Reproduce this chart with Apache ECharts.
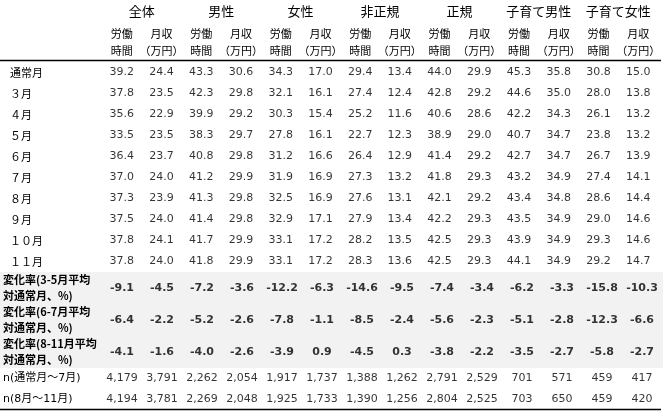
<!DOCTYPE html>
<html><head><meta charset="utf-8">
<script src="https://cdn.jsdelivr.net/npm/echarts@6/dist/echarts.min.js"></script>
<style>html,body{margin:0;padding:0;background:#fff}#c{width:663px;height:411px}</style>
</head><body><div id="c"></div>
<script>
const groupLabels = ['全体','男性','女性','非正規','正規','子育て男性','子育て女性'];
const subLabels = ['労働\n時間','月収\n（万円）','労働\n時間','月収\n（万円）','労働\n時間','月収\n（万円）','労働\n時間','月収\n（万円）','労働\n時間','月収\n（万円）','労働\n時間','月収\n（万円）','労働\n時間','月収\n（万円）'];
const monthLabels = ['通常月','３月','４月','５月','６月','７月','８月','９月','１０月','１１月'];
const rowNormal = [39.2,24.4,43.3,30.6,34.3,17.0,29.4,13.4,44.0,29.9,45.3,35.8,30.8,15.0];
const rowMar = [37.8,23.5,42.3,29.8,32.1,16.1,27.4,12.4,42.8,29.2,44.6,35.0,28.0,13.8];
const rowApr = [35.6,22.9,39.9,29.2,30.3,15.4,25.2,11.6,40.6,28.6,42.2,34.3,26.1,13.2];
const rowMay = [33.5,23.5,38.3,29.7,27.8,16.1,22.7,12.3,38.9,29.0,40.7,34.7,23.8,13.2];
const rowJun = [36.4,23.7,40.8,29.8,31.2,16.6,26.4,12.9,41.4,29.2,42.7,34.7,26.7,13.9];
const rowJul = [37.0,24.0,41.2,29.9,31.9,16.9,27.3,13.2,41.8,29.3,43.2,34.9,27.4,14.1];
const rowAug = [37.3,23.9,41.3,29.8,32.5,16.9,27.6,13.1,42.1,29.2,43.4,34.8,28.6,14.4];
const rowSep = [37.5,24.0,41.4,29.8,32.9,17.1,27.9,13.4,42.2,29.3,43.5,34.9,29.0,14.6];
const rowOct = [37.8,24.1,41.7,29.9,33.1,17.2,28.2,13.5,42.5,29.3,43.9,34.9,29.3,14.6];
const rowNov = [37.8,24.0,41.8,29.9,33.1,17.2,28.3,13.6,42.5,29.3,44.1,34.9,29.2,14.7];
const monthValues = [rowNormal,rowMar,rowApr,rowMay,rowJun,rowJul,rowAug,rowSep,rowOct,rowNov];

const changeLabels = ['変化率(3-5月平均\n対通常月、%)','変化率(6-7月平均\n対通常月、%)','変化率(8-11月平均\n対通常月、%)'];
const change35 = [-9.1,-4.5,-7.2,-3.6,-12.2,-6.3,-14.6,-9.5,-7.4,-3.4,-6.2,-3.3,-15.8,-10.3];
const change67 = [-6.4,-2.2,-5.2,-2.6,-7.8,-1.1,-8.5,-2.4,-5.6,-2.3,-5.1,-2.8,-12.3,-6.6];
const change811 = [-4.1,-1.6,-4.0,-2.6,-3.9,0.9,-4.5,0.3,-3.8,-2.2,-3.5,-2.7,-5.8,-2.7];
const changeValues = [change35,change67,change811];

const nLabels = ['n(通常月～7月)','n(8月～11月)'];
const nFirst = [4179,3791,2262,2054,1917,1737,1388,1262,2791,2529,701,571,459,417];
const nSecond = [4194,3781,2269,2048,1925,1733,1390,1256,2804,2525,703,650,459,420];
const nValues = [nFirst,nSecond];

const FONT = '"DejaVu Sans","Noto Sans CJK JP",sans-serif';
const JFONT = '"Noto Sans CJK JP","DejaVu Sans",sans-serif';
const colIdx = subLabels.map((_, i) => i);

function cells(rows, fmt) {
  const out = [];
  rows.forEach((row, r) => row.forEach((v, c) => out.push([c, r, fmt(v)])));
  return out;
}

const chart = echarts.init(document.getElementById('c'), null, {renderer: 'canvas'});
const hiddenX = (gi) => ({type: 'category', gridIndex: gi, data: colIdx, show: false});
const yAxis = (gi, labels, margin, bold, lh, font) => ({
  type: 'category', gridIndex: gi, data: labels, inverse: true,
  axisLine: {show: false}, axisTick: {show: false}, splitLine: {show: false},
  axisLabel: {interval: 0, align: 'left', margin: margin, color: '#000', fontFamily: font,
    fontSize: 11, fontWeight: bold ? 'bold' : 'normal', lineHeight: lh}
});
const cellSeries = (gi, rows, fmt, bold) => ({
  type: 'scatter', xAxisIndex: gi === 0 ? 0 : gi + 1, yAxisIndex: gi,
  symbol: 'rect', symbolSize: 1, itemStyle: {color: 'transparent'},
  silent: true,
  label: {show: true, position: 'inside', color: '#000', fontFamily: FONT, fontSize: 11,
    fontWeight: bold ? 'bold' : 'normal', formatter: p => p.value[2]},
  data: cells(rows, fmt)
});

chart.setOption({
  animation: false,
  backgroundColor: '#fff',
  grid: [
    {left: 102, top: 62, width: 560, height: 210},
    {left: 102, top: 272, width: 560, height: 96},
    {left: 102, top: 368, width: 560, height: 41}
  ],
  xAxis: [
    {type: 'category', gridIndex: 0, data: subLabels, position: 'top',
      axisLine: {show: false}, axisTick: {show: false},
      axisLabel: {interval: 0, margin: 2.5, color: '#000', fontFamily: JFONT, fontSize: 11, lineHeight: 17}},
    {type: 'category', gridIndex: 0, data: groupLabels, position: 'top', offset: 40,
      axisLine: {show: false}, axisTick: {show: false},
      axisLabel: {interval: 0, margin: 3, color: '#000', fontFamily: JFONT, fontSize: 13, lineHeight: 16}},
    hiddenX(1), hiddenX(2)
  ],
  yAxis: [
    yAxis(0, monthLabels, 92, false, 14, JFONT),
    yAxis(1, changeLabels, 99, true, 16.5, JFONT),
    yAxis(2, nLabels, 99, false, 14, FONT)
  ],
  graphic: [
    {type: 'rect', z: -10, shape: {x: 0, y: 272, width: 663, height: 96}, style: {fill: '#f2f2f2'}},
    {type: 'line', shape: {x1: 0, y1: 60.5, x2: 661, y2: 60.5}, style: {stroke: '#000', lineWidth: 1.5}},
    {type: 'line', shape: {x1: 0, y1: 409.5, x2: 661, y2: 409.5}, style: {stroke: '#000', lineWidth: 1.5}}
  ],
  series: [
    cellSeries(0, monthValues, v => v.toFixed(1), false),
    cellSeries(1, changeValues, v => v.toFixed(1), true),
    cellSeries(2, nValues, v => v.toLocaleString('en-US'), false)
  ]
});
</script></body></html>
